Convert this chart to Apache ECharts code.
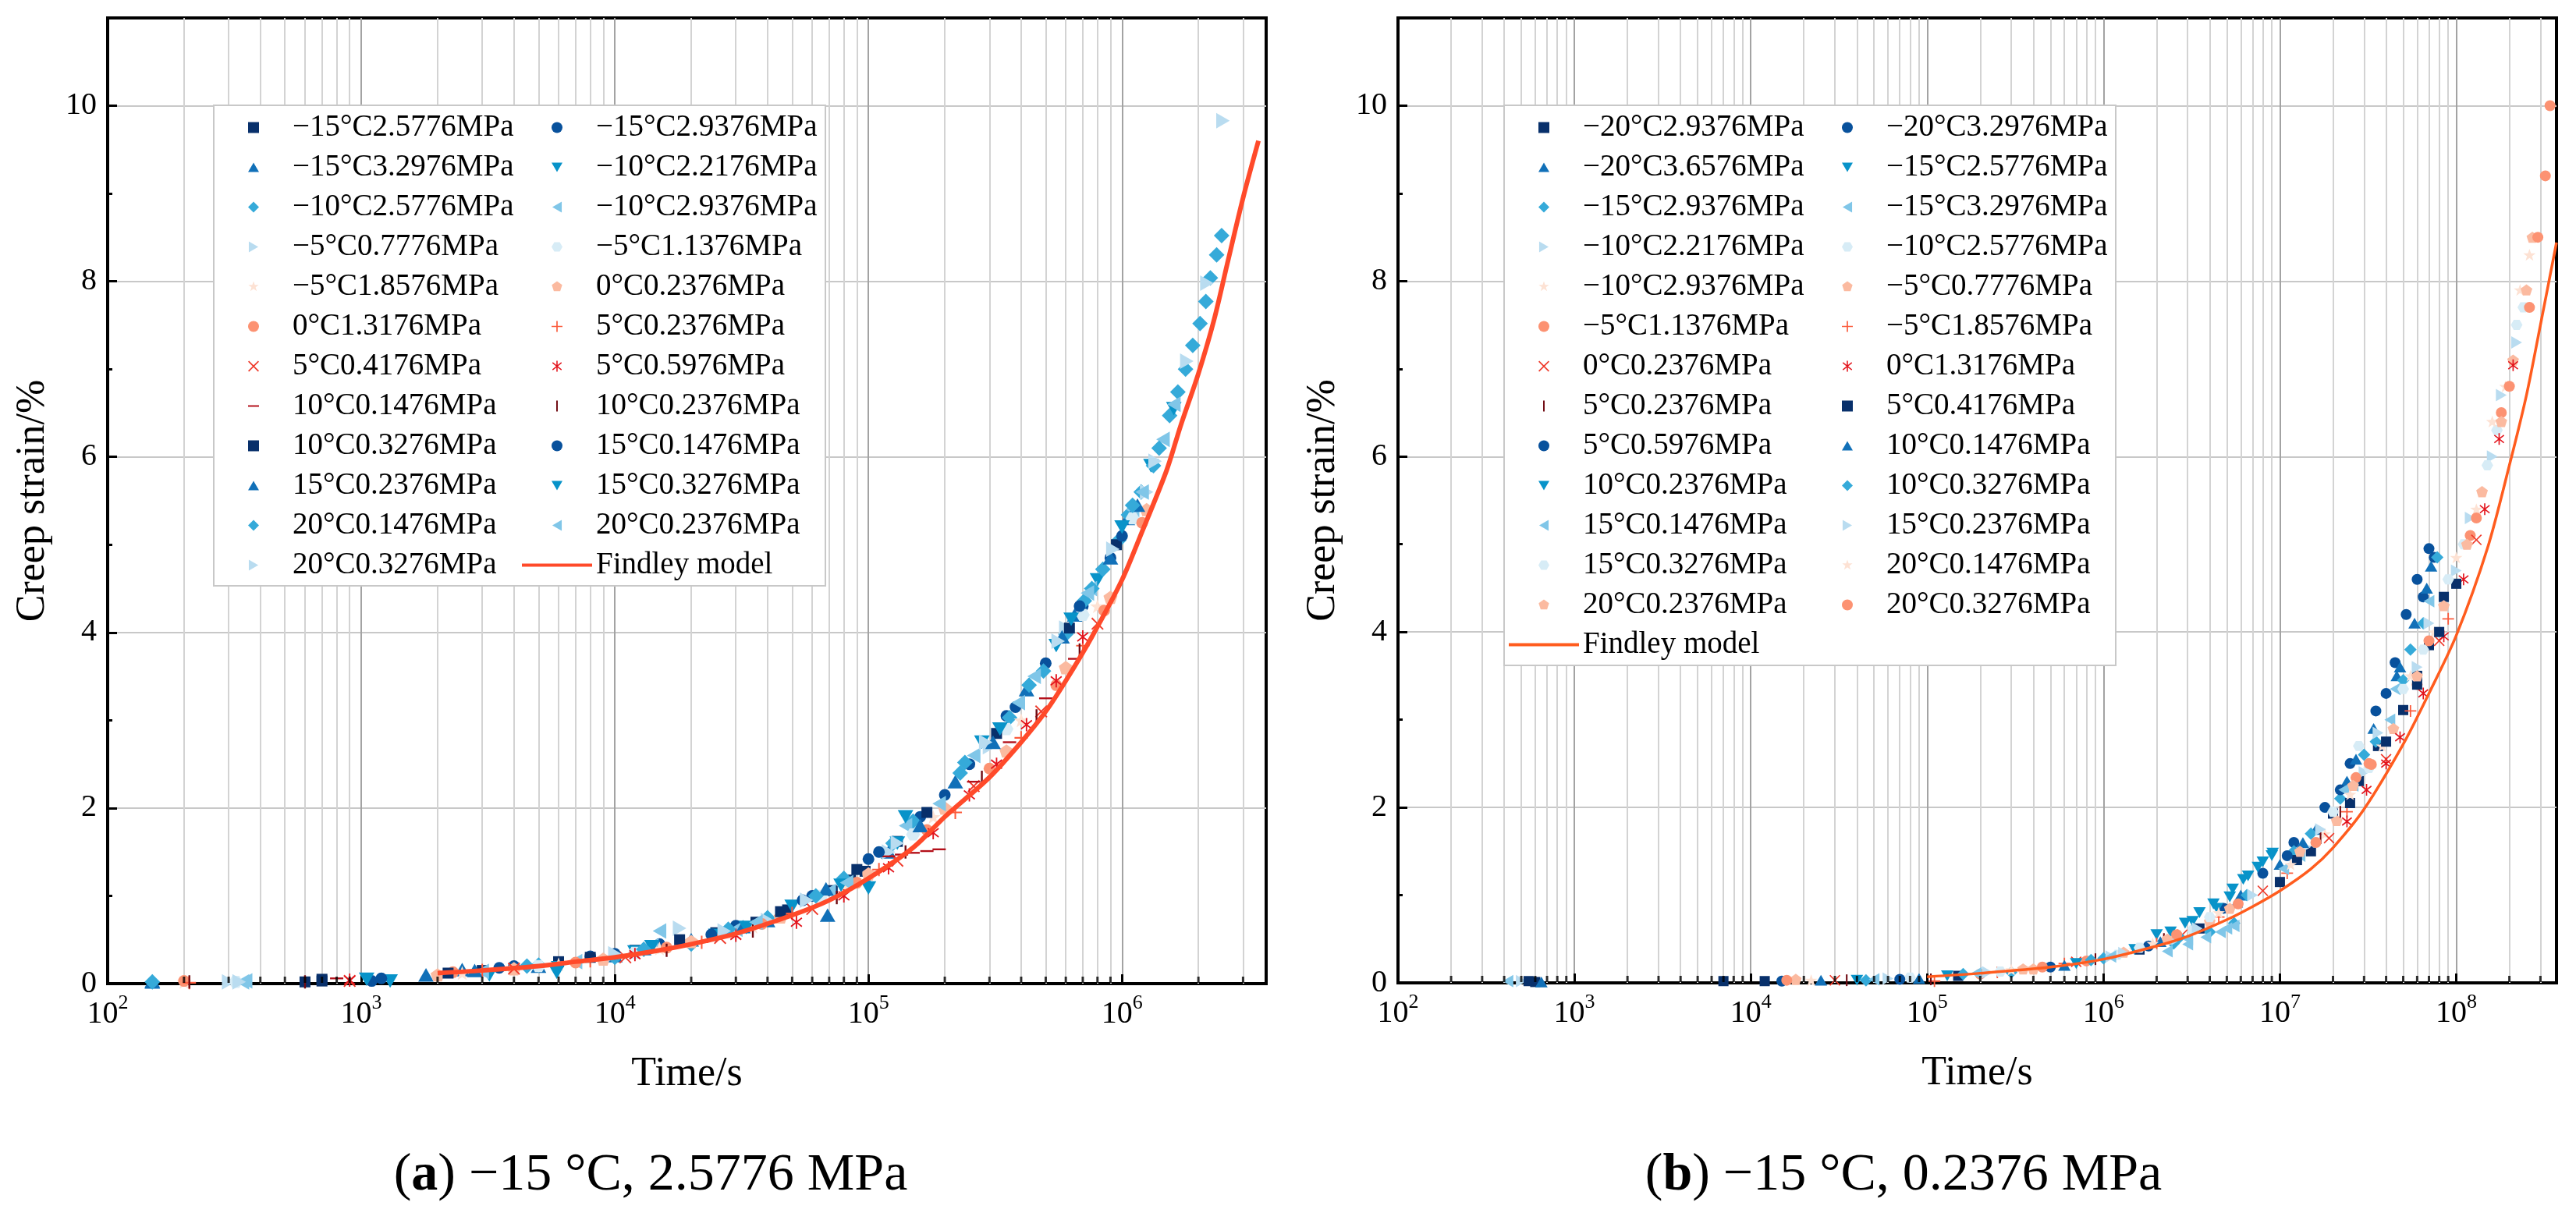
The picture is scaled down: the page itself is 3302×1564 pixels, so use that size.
<!DOCTYPE html>
<html>
<head>
<meta charset="utf-8">
<script src="https://cdn.jsdelivr.net/npm/echarts@6/dist/echarts.min.js"></script>
<style>
  html, body { margin: 0; padding: 0; background: #fff; }
  #container { width: 3302px; height: 1564px; }
</style>
</head>
<body>
<div id="container"></div>
<script>
// ---- legend labels -------------------------------------------------------
const namesA = ['−15°C2.5776MPa', '−15°C2.9376MPa', '−15°C3.2976MPa', '−10°C2.2176MPa',
  '−10°C2.5776MPa', '−10°C2.9376MPa', '−5°C0.7776MPa', '−5°C1.1376MPa', '−5°C1.8576MPa',
  '0°C0.2376MPa', '0°C1.3176MPa', '5°C0.2376MPa', '5°C0.4176MPa', '5°C0.5976MPa',
  '10°C0.1476MPa', '10°C0.2376MPa', '10°C0.3276MPa', '15°C0.1476MPa', '15°C0.2376MPa',
  '15°C0.3276MPa', '20°C0.1476MPa', '20°C0.2376MPa', '20°C0.3276MPa'];
const namesB = ['−20°C2.9376MPa', '−20°C3.2976MPa', '−20°C3.6576MPa', '−15°C2.5776MPa',
  '−15°C2.9376MPa', '−15°C3.2976MPa', '−10°C2.2176MPa', '−10°C2.5776MPa', '−10°C2.9376MPa',
  '−5°C0.7776MPa', '−5°C1.1376MPa', '−5°C1.8576MPa', '0°C0.2376MPa', '0°C1.3176MPa',
  '5°C0.2376MPa', '5°C0.4176MPa', '5°C0.5976MPa', '10°C0.1476MPa', '10°C0.2376MPa',
  '10°C0.3276MPa', '15°C0.1476MPa', '15°C0.2376MPa', '15°C0.3276MPa', '20°C0.1476MPa',
  '20°C0.2376MPa', '20°C0.3276MPa'];
const modelName = 'Findley model';
const captionA = '({b|a}) −15 °C, 2.5776 MPa';
const captionB = '({b|b}) −15 °C, 0.2376 MPa';

// ---- panel (a): [time s, creep strain %] ----------------------------------
const a01 = [[600, 0.02], [700, 0.03], [3e3, 0.15], [6e3, 0.25], [1.2e4, 0.38], [2.5e4, 0.58], [3.6e4, 0.70], [4.8e4, 0.84], [7.2e4, 1.06], [8.5e4, 1.18], [9.7e4, 1.28], [1.3e5, 1.62]];
const a02 = [[1.1e3, 0.03], [4e3, 0.2], [8e3, 0.31], [1.5e4, 0.45], [3e4, 0.66], [6e4, 1.0], [1e5, 1.42], [1.6e5, 1.9], [2.5e5, 2.5], [3.5e5, 3.05], [5e5, 3.65], [7e5, 4.3], [9e5, 4.85]];
const a03 = [[150, 0.02], [1.8e3, 0.1], [2.5e3, 0.16], [5e3, 0.2], [1e4, 0.32], [2e4, 0.5], [4e4, 0.72], [6.9e4, 0.78], [1.2e5, 1.5], [2.2e5, 2.3], [4.2e5, 3.35], [6.5e5, 4.2], [1.05e6, 5.3]];
const a04 = [[1.3e3, 0.03], [3.2e3, 0.1], [6e3, 0.18], [1.2e4, 0.36], [2.5e4, 0.55], [5e4, 0.88], [1e5, 1.2], [1.3e5, 1.6], [2.8e5, 2.75], [5.5e5, 3.85], [8e5, 4.6], [1.3e6, 5.9]];
const a05 = [[5e3, 0.21], [1e4, 0.3], [2e4, 0.45], [4e4, 0.75], [8e4, 1.2], [1.5e5, 1.85], [2.4e5, 2.52], [3.6e5, 3.03], [4.9e5, 3.56], [6e5, 3.98], [7.1e5, 4.36], [8.4e5, 4.72], [9.7e5, 5.05], [1.06e6, 5.34], [1.19e6, 5.6], [1.33e6, 5.9], [1.54e6, 6.47], [1.66e6, 6.74], [1.78e6, 7.0], [1.9e6, 7.27], [2.03e6, 7.52], [2.14e6, 7.77], [2.23e6, 8.04], [2.36e6, 8.3], [2.47e6, 8.52]];
const a06 = [[350, 0.03], [3e3, 0.14], [7e3, 0.25], [1.4e4, 0.43], [3e4, 0.62], [7e4, 1.05], [1.4e5, 1.8], [2.6e5, 2.6], [4.5e5, 3.5], [7.5e5, 4.5], [1.1e6, 5.4], [1.45e6, 6.2]];
const a07 = [[300, 0.02], [1.8e4, 0.63], [4e4, 0.72], [1.2e5, 1.5], [3e5, 2.7], [6e5, 4.05], [1.25e6, 5.6], [1.8e6, 7.09], [2.16e6, 7.98], [2.5e6, 9.83]];
const a08 = [[320, 0.02], [5e3, 0.2], [1.2e4, 0.35], [2.8e4, 0.6], [6.5e4, 1.0], [1.5e5, 1.7], [3.5e5, 2.9], [7e5, 4.2], [1.1e6, 5.3]];
const a09 = [[200, 0.02], [2.5e3, 0.12], [6e3, 0.22], [1.5e4, 0.4], [3.5e4, 0.65], [8e4, 1.1], [1.8e5, 1.9], [4e5, 3.0], [8e5, 4.3]];
const a10 = [[2e3, 0.1], [4e3, 0.17], [9e3, 0.28], [2e4, 0.48], [4.5e4, 0.76], [1e5, 1.25], [2e5, 2.0], [3.5e5, 2.65], [6e5, 3.6], [9e5, 4.4], [1.25e6, 5.4]];
const a11 = [[200, 0.03], [2.3e3, 0.13], [7e3, 0.24], [1.6e4, 0.41], [3.8e4, 0.68], [9e4, 1.15], [1.7e5, 1.75], [3e5, 2.45], [5.5e5, 3.4], [8.5e5, 4.25], [1.2e6, 5.25]];
const a12 = [[210, 0.01], [3e3, 0.15], [8e3, 0.26], [2.2e4, 0.47], [5e4, 0.8], [1.1e5, 1.3], [2.2e5, 1.95], [4e5, 2.8], [7e5, 3.85]];
const a13 = [[900, 0.03], [4e3, 0.17], [1.1e4, 0.3], [2.6e4, 0.52], [6e4, 0.85], [1.3e5, 1.4], [2.6e5, 2.25], [4.8e5, 3.1], [8e5, 4.1]];
const a14 = [[900, 0.04], [1.2e4, 0.33], [3e4, 0.55], [5.2e4, 0.7], [8e4, 1.0], [1.2e5, 1.32], [1.8e5, 1.72], [2.5e5, 2.15], [3.2e5, 2.5], [4.2e5, 2.95], [5.5e5, 3.45], [7e5, 3.95]];
const a15 = [[800, 0.06], [1.2e5, 1.45], [1.35e5, 1.47], [1.5e5, 1.49], [1.7e5, 1.51], [1.9e5, 1.53], [2.6e5, 2.3], [3.6e5, 2.75], [5e5, 3.25], [6.5e5, 3.7]];
const a16 = [[210, 0.02], [600, 0.02], [1.6e4, 0.38], [3.5e4, 0.6], [7.5e4, 0.98], [1.4e5, 1.5], [2.8e5, 2.35], [4.6e5, 3.05], [6.8e5, 3.8]];
const a17 = [[700, 0.05], [2.2e3, 0.12], [8e3, 0.3], [1.8e4, 0.5], [4.5e4, 0.82], [9e4, 1.3], [1.7e5, 1.95], [3.2e5, 2.85], [6.2e5, 4.05], [9.5e5, 5.0]];
const a18 = [[1.2e3, 0.06], [3.5e3, 0.18], [1e4, 0.34], [2.4e4, 0.56], [5.5e4, 0.95], [1.1e5, 1.5], [2e5, 2.15], [3.8e5, 3.15], [6.8e5, 4.3], [1e6, 5.1]];
const a19 = [[150, 0.03], [2.8e3, 0.15], [1.3e4, 0.4], [3.2e4, 0.65], [6.8e4, 1.08], [1.6e5, 1.8], [3.1e5, 2.75], [5.8e5, 3.95], [9e5, 4.85], [1.15e6, 5.45]];
const a20 = [[1.05e3, 0.05], [5.9e3, 0.13], [1.4e4, 0.42], [3.3e4, 0.64], [7.8e4, 1.12], [1e5, 1.09], [1.4e5, 1.9], [3.3e5, 2.9], [6.3e5, 4.15], [1e6, 5.2], [1.6e6, 6.55]];
const a21 = [[150, 0.02], [4.5e3, 0.2], [1.3e4, 0.39], [2.8e4, 0.62], [6.2e4, 1.0], [1.25e5, 1.6], [2.3e5, 2.4], [4.3e5, 3.4], [7.6e5, 4.5], [1.1e6, 5.45], [1.4e6, 6.1]];
const a22 = [[340, 0.02], [1.5e4, 0.6], [3.6e4, 0.7], [8.2e4, 1.15], [1.9e5, 2.05], [3.9e5, 3.2], [7.3e5, 4.45], [1.2e6, 5.6], [1.6e6, 6.6]];
const a23 = [[330, 0.02], [1e4, 0.34], [2.7e4, 0.6], [5.7e4, 0.95], [1.3e5, 1.6], [2.9e5, 2.75], [5.6e5, 3.9], [9.2e5, 4.95], [1.35e6, 5.95]];
const findleyA = [[2e3, 0.12], [3e3, 0.15], [5e3, 0.2], [7e3, 0.25], [1e4, 0.3], [1.5e4, 0.38], [2e4, 0.45], [3e4, 0.57], [5e4, 0.78], [7e4, 0.95], [1e5, 1.2], [1.5e5, 1.55], [2e5, 1.9], [3e5, 2.35], [4e5, 2.75], [5e5, 3.1], [6e5, 3.45], [7.6e5, 3.95], [1e6, 4.6], [1.2e6, 5.15], [1.5e6, 5.85], [1.7e6, 6.35], [2e6, 6.95], [2.3e6, 7.55], [2.6e6, 8.2], [3e6, 8.95], [3.45e6, 9.6]];

// ---- panel (b): [time s, creep strain %] ----------------------------------
const b01 = [[600, 0.01], [7e3, 0.02], [1e7, 1.15], [1.5e7, 1.5], [2e7, 1.93], [2.8e7, 2.3], [3.6e7, 2.7], [5e7, 3.11], [6e7, 3.5], [7e7, 3.85], [8.5e7, 4.4]];
const b02 = [[1.5e4, 0.02], [8e6, 1.25], [1.2e7, 1.6], [1.8e7, 2.0], [2.5e7, 2.5], [3.5e7, 3.1], [4.5e7, 3.65], [5.2e7, 4.2], [6e7, 4.6], [7e7, 4.95]];
const b03 = [[650, 0.01], [2.5e4, 0.03], [6e6, 1.0], [1e7, 1.35], [1.6e7, 1.75], [2.4e7, 2.3], [3.4e7, 2.9], [4.6e7, 3.5], [5.8e7, 4.1], [7.2e7, 4.75]];
const b04 = [[4e4, 0.03], [2e6, 0.55], [2.9e6, 0.68], [3.5e6, 0.8], [4.2e6, 0.9], [5.2e6, 0.98], [6.2e6, 1.18], [7.5e6, 1.32], [9.1e6, 1.48]];
const b05 = [[4.5e4, 0.03], [3e5, 0.12], [1e6, 0.28], [2.5e6, 0.45], [4e6, 0.58], [5.5e6, 0.68], [1.2e7, 1.5], [2.2e7, 2.1], [3.5e7, 2.75], [5e7, 3.45], [6.5e7, 4.1]];
const b06 = [[420, 0.02], [5e4, 0.04], [2.3e6, 0.36], [3e6, 0.44], [3.8e6, 0.52], [4.6e6, 0.58], [5.5e6, 0.65], [1.3e7, 1.45], [2.6e7, 2.25], [4.2e7, 3.0]];
const b07 = [[500, 0.02], [6e4, 0.05], [1.1e6, 0.3], [2.6e6, 0.5], [1.4e7, 1.55], [3e7, 2.4], [6e7, 3.6], [1e8, 4.7], [1.6e8, 6.0], [2.2e8, 7.3]];
const b08 = [[8e4, 0.06], [1.2e6, 0.32], [3.2e6, 0.6], [1.6e7, 1.6], [3.2e7, 2.45], [6.5e7, 3.8], [1.1e8, 5.0], [1.7e8, 6.3], [2.4e8, 7.7]];
const b09 = [[2.2e4, 0.03], [5e5, 0.18], [1.5e6, 0.38], [1.8e7, 1.7], [3.8e7, 2.7], [7.5e7, 4.0], [1.3e8, 5.4], [1.9e8, 6.8], [2.6e8, 8.3]];
const b10 = [[1.8e4, 0.04], [4e5, 0.16], [1.3e6, 0.35], [4e6, 0.7], [2.1e7, 1.85], [4.4e7, 2.9], [8.5e7, 4.3], [1.4e8, 5.6], [2.1e8, 7.1], [2.7e8, 8.5]];
const b11 = [[1.6e4, 0.03], [2e5, 0.1], [8e5, 0.25], [2.7e7, 2.34], [3.3e7, 2.49], [6e7, 3.4], [1.2e8, 5.1], [1.8e8, 6.5]];
const b12 = [[1.1e5, 0.02], [2.5e5, 0.12], [6e5, 0.22], [2e6, 0.45], [4.5e6, 0.75], [1.1e7, 1.25], [2.4e7, 1.95], [5.5e7, 3.1], [9e7, 4.15]];
const b13 = [[3e4, 0.03], [7e5, 0.24], [2.8e6, 0.55], [8e6, 1.05], [1.9e7, 1.65], [4e7, 2.55], [8e7, 3.9], [1.3e8, 5.05]];
const b14 = [[2.4e7, 1.84], [3.1e7, 2.2], [4e7, 2.5], [4.8e7, 2.8], [6.5e7, 3.3], [8.5e7, 3.95], [1.1e8, 4.6], [1.45e8, 5.4], [1.75e8, 6.2], [2.1e8, 7.04]];
const b15 = [[3.5e4, 0.03], [1.05e5, 0.04], [9e5, 0.27], [2.2e6, 0.5], [1.7e7, 1.65], [2.2e7, 1.95]];
const b16 = [[550, 0.02], [1.2e4, 0.02], [1.5e5, 0.08], [1.6e6, 0.38], [3.5e6, 0.62], [1.25e7, 1.4], [2.5e7, 2.05], [4e7, 2.75], [6e7, 3.4], [8e7, 4.0], [1e8, 4.55]];
const b17 = [[7e4, 0.04], [5e5, 0.18], [1.8e6, 0.42], [4.8e6, 0.85], [1.1e7, 1.45], [2.2e7, 2.2], [4e7, 3.3], [6.5e7, 4.4], [7.5e7, 4.85]];
const b18 = [[9e4, 0.05], [6e5, 0.2], [2.1e6, 0.47], [5.7e6, 0.92], [1.35e7, 1.6], [2.7e7, 2.55], [4.8e7, 3.6], [6.8e7, 4.5]];
const b19 = [[1.3e5, 0.08], [7e5, 0.22], [1.5e6, 0.38], [2.4e6, 0.58], [3.2e6, 0.7], [4.4e6, 0.85], [5.4e6, 1.07], [6.6e6, 1.22], [8e6, 1.38], [9e6, 1.45]];
const b20 = [[1.6e5, 0.1], [8.5e5, 0.26], [2.7e6, 0.52], [6.5e6, 1.0], [1.5e7, 1.7], [3e7, 2.6], [5.5e7, 3.8], [7.8e7, 4.85]];
const b21 = [[1.9e5, 0.11], [1.1e6, 0.3], [3e6, 0.5], [5e6, 0.62], [1.05e7, 1.3], [2.3e7, 2.2], [4.5e7, 3.35], [7e7, 4.35]];
const b22 = [[2.2e5, 0.12], [1.3e6, 0.34], [3.4e6, 0.62], [7e6, 1.0], [1.7e7, 1.75], [3.6e7, 2.85], [7e7, 4.1], [1.2e8, 5.3], [1.8e8, 6.7]];
const b23 = [[2.6e5, 0.13], [1.6e6, 0.4], [4e6, 0.75], [2e7, 1.95], [2.8e7, 2.7], [5e7, 3.35], [9e7, 4.6], [1.5e8, 5.9], [2.2e8, 7.5]];
const b24 = [[3e5, 0.15], [1.9e6, 0.45], [4.5e6, 0.8], [1.15e7, 1.35], [2.5e7, 2.15], [5.5e7, 3.5], [1e8, 4.85], [1.6e8, 6.4], [2.3e8, 7.9]];
const b25 = [[3.5e5, 0.16], [2.3e6, 0.5], [5.2e6, 0.85], [1.3e7, 1.5], [2.6e7, 2.25], [6e7, 3.5], [1.15e8, 5.0], [1.8e8, 6.4], [2.5e8, 7.9]];
const b26 = [[4.5e5, 0.18], [2.6e6, 0.55], [5.8e6, 0.9], [1.6e7, 1.6], [3.2e7, 2.5], [7e7, 3.9], [1.3e8, 5.3], [2e8, 6.8], [2.6e8, 7.7], [2.9e8, 8.5], [3.2e8, 9.2], [3.4e8, 10.0]];
const findleyB = [[1e5, 0.07], [2e5, 0.11], [5e5, 0.18], [1e6, 0.27], [2e6, 0.42], [3e6, 0.53], [5e6, 0.72], [7e6, 0.87], [1e7, 1.05], [1.5e7, 1.3], [2e7, 1.54], [3e7, 1.98], [5e7, 2.72], [7e7, 3.3], [1e8, 3.96], [1.5e8, 4.95], [2e8, 5.9], [2.5e8, 6.7], [3e8, 7.5], [3.7e8, 8.44]];

const pointsA = [a01, a02, a03, a04, a05, a06, a07, a08, a09, a10, a11, a12, a13, a14, a15, a16, a17, a18, a19, a20, a21, a22, a23];
const pointsB = [b01, b02, b03, b04, b05, b06, b07, b08, b09, b10, b11, b12, b13, b14, b15, b16, b17, b18, b19, b20, b21, b22, b23, b24, b25, b26];

// axis extents
const timeMaxA = 3.7e6;
const timeMaxB = 3.7e8;
const strainMax = 11;

// ---- marker styles (Origin-like symbol / colour cycle), all in a 10x10 box --
const FONT = '"Liberation Serif", "Times New Roman", serif';
const SQUARE = 'path://M0,0 H10 V10 H0 Z';
const CIRCLE = 'path://M0,5 A5,5 0 1,0 10,5 A5,5 0 1,0 0,5 Z';
const TRI_UP = 'path://M5,0.67 L10,9.33 L0,9.33 Z';
const TRI_DOWN = 'path://M0,0.67 L10,0.67 L5,9.33 Z';
const DIAMOND = 'path://M5,0 L10,5 L5,10 L0,5 Z';
const TRI_LEFT = 'path://M0.67,5 L9.33,0 L9.33,10 L0.67,5 Z';
const TRI_RIGHT = 'path://M0.67,0 L9.33,5 L0.67,10 Z';
const HEX = 'path://M2.5,0.67 L7.5,0.67 L10,5 L7.5,9.33 L2.5,9.33 L0,5 Z';
const STAR = 'path://M5,0 L6.18,3.38 L9.76,3.45 L6.9,5.62 L7.94,9.05 L5,7 L2.06,9.05 L3.1,5.62 L0.24,3.45 L3.82,3.38 Z';
const PENT = 'path://M5,0 L9.76,3.45 L7.94,9.05 L2.06,9.05 L0.24,3.45 Z';
const PLUS = 'path://M4.4,0 H5.6 V4.4 H10 V5.6 H5.6 V10 H4.4 V5.6 H0 V4.4 H4.4 Z';
const CROSS = 'path://M0,0.85 L0.85,0 L5,4.15 L9.15,0 L10,0.85 L5.85,5 L10,9.15 L9.15,10 L5,5.85 L0.85,10 L0,9.15 L4.15,5 Z';
const ASTER = 'path://M4.45,0 H5.55 V10 H4.45 Z M0.6,2.2 L1.2,1.3 L9.4,7.8 L8.8,8.7 Z M0.6,7.8 L8.8,1.3 L9.4,2.2 L1.2,8.7 Z';
const DASH = 'path://M5,0 L5,0 M5,10 L5,10 M0,4.3 H10 V5.7 H0 Z';
const VBAR = 'path://M0,5 L0,5 M10,5 L10,5 M4.3,0 H5.7 V10 H4.3 Z';
const LINE_ICON = 'path://M0,5 H90 V9 H0 Z M0,0 L0,0 M90,14 L90,14';

const symbolsA = [SQUARE, CIRCLE, TRI_UP, TRI_DOWN, DIAMOND, TRI_LEFT, TRI_RIGHT, HEX, STAR, PENT, CIRCLE, PLUS, CROSS, ASTER, DASH, VBAR];
const colorsA = ['#08306b', '#08519c', '#1170b8', '#0893c9', '#35aad9', '#80c6e8', '#b9dcf0', '#d7ecf6', '#fde2d4', '#fbbaa0', '#fc9272', '#fb5b3c', '#ef3b2c', '#e3141c', '#b3101a', '#700a12'];
const sizesA = [14, 15, 20, 20, 20, 20, 20, 18, 19, 18, 15, 17, 16, 17, 17, 17];
const symbolsB = [SQUARE, CIRCLE, TRI_UP, TRI_DOWN, DIAMOND, TRI_LEFT, TRI_RIGHT, HEX, STAR, PENT, CIRCLE, PLUS, CROSS, ASTER, VBAR];
const colorsB = ['#08306b', '#08519c', '#1170b8', '#0893c9', '#35aad9', '#80c6e8', '#b9dcf0', '#d7ecf6', '#fde2d4', '#fbbaa0', '#fc9272', '#fb5b3c', '#ef3b2c', '#e3141c', '#700a12'];
const sizesB = [13, 14, 16, 16, 16, 16, 16, 15, 16, 15, 14, 15, 14, 15, 15];

// legend icon: the marker scaled to 14 px and centred in a 90x14 box, so that
// every legend entry (marker or line) has the same width
function legendIcon(sym) {
    const S = 1.4, OX = 38, OY = 0;
    const body = sym.replace('path://', '').replace(/([MLHVAZ])([^MLHVAZ]*)/g, function (all, cmd, args) {
        const n = args.trim().split(/[\s,]+/).filter(function (s) { return s !== ''; }).map(Number);
        if (cmd === 'Z') return 'Z ';
        if (cmd === 'H') return 'H' + (n[0] * S + OX) + ' ';
        if (cmd === 'V') return 'V' + (n[0] * S + OY) + ' ';
        if (cmd === 'A') {
            return 'A' + [n[0] * S, n[1] * S, n[2], n[3], n[4], n[5] * S + OX, n[6] * S + OY].join(',') + ' ';
        }
        const pts = [];
        for (let i = 0; i + 1 < n.length; i += 2) pts.push((n[i] * S + OX) + ',' + (n[i + 1] * S + OY));
        return cmd + pts.join(' ') + ' ';
    });
    return 'path://M0,0 L0,0 M90,14 L90,14 ' + body;
}

// series names must be unique across the two panels, so panel (b) gets an
// invisible tag that the legend formatter strips again
const TAG_B = '\u200b';

function markerSeries(names, pts, symbols, colors, sizes, idx, tag) {
    return names.map(function (name, i) {
        const k = i % symbols.length;
        return {
            name: name + tag,
            type: 'scatter',
            xAxisIndex: idx,
            yAxisIndex: idx,
            data: pts[i],
            symbol: symbols[k],
            symbolSize: sizes[k],
            symbolKeepAspect: true,
            itemStyle: { color: colors[k], opacity: 1 },
            emphasis: { disabled: true },
            z: 3
        };
    });
}

// minor (2..9 x 10^n) ticks and grid lines of a log time axis
function minorDecor(idx, maxVal) {
    const minors = [];
    for (let e = 2; Math.pow(10, e) < maxVal; e++) {
        for (let m = 2; m <= 9; m++) {
            const v = m * Math.pow(10, e);
            if (v < maxVal) minors.push(v);
        }
    }
    return {
        name: 'minor-' + idx,
        type: 'scatter',
        xAxisIndex: idx,
        yAxisIndex: idx,
        data: minors.map(function (v) { return [v, 0]; }),
        symbol: 'rect',
        symbolSize: [3, 8],
        symbolOffset: [0, -5],
        itemStyle: { color: '#000' },
        clip: false,
        silent: true,
        z: 4,
        markLine: {
            silent: true,
            z: 1,
            symbol: ['none', 'none'],
            label: { show: false },
            lineStyle: { color: '#d3d3d3', width: 2, type: 'solid' },
            data: minors.map(function (v) { return { xAxis: v }; })
        }
    };
}

function modelSeries(data, idx, tag, color, width) {
    return {
        name: modelName + tag,
        type: 'line',
        xAxisIndex: idx,
        yAxisIndex: idx,
        data: data,
        smooth: 0.3,
        symbol: 'none',
        showSymbol: false,
        lineStyle: { color: color, width: width },
        itemStyle: { color: color },
        emphasis: { disabled: true },
        z: 5
    };
}

function timeAxis(idx, maxVal) {
    return {
        type: 'log',
        logBase: 10,
        gridIndex: idx,
        min: 100,
        max: maxVal,
        name: 'Time/s',
        nameLocation: 'middle',
        nameGap: 90,
        nameTextStyle: { fontFamily: FONT, fontSize: 52, color: '#000' },
        axisLine: { show: true, onZero: false, lineStyle: { color: '#000', width: 4 } },
        axisTick: { show: true, inside: true, length: 12, lineStyle: { color: '#000', width: 3 } },
        splitLine: { show: true, showMinLine: false, showMaxLine: false, lineStyle: { color: '#a3a3a3', width: 2 } },
        axisLabel: {
            showMaxLabel: false,
            margin: 12,
            formatter: function (v) {
                return '{m|10}{s|' + Math.round(Math.log10(v)) + '}';
            },
            rich: {
                m: { fontFamily: FONT, fontSize: 40, color: '#000', lineHeight: 54 },
                s: { fontFamily: FONT, fontSize: 26, color: '#000', lineHeight: 28, verticalAlign: 'top' }
            }
        }
    };
}

function strainAxis(idx) {
    return {
        type: 'value',
        gridIndex: idx,
        min: 0,
        max: strainMax,
        interval: 2,
        name: 'Creep strain/%',
        nameLocation: 'middle',
        nameGap: 70,
        nameTextStyle: { fontFamily: FONT, fontSize: 52, color: '#000' },
        axisLine: { show: true, onZero: false, lineStyle: { color: '#000', width: 4 } },
        axisTick: { show: true, inside: true, length: 12, lineStyle: { color: '#000', width: 3 } },
        minorTick: { show: true, splitNumber: 2, length: 6, lineStyle: { color: '#000', width: 3 } },
        splitLine: { show: true, showMinLine: false, showMaxLine: false, lineStyle: { color: '#c8c8c8', width: 2 } },
        axisLabel: { fontFamily: FONT, fontSize: 40, color: '#000', margin: 14, showMaxLabel: false }
    };
}

function legendBox(names, symbols, tag, left) {
    return {
        data: names.map(function (n, i) {
            return { name: n + tag, icon: legendIcon(symbols[i % symbols.length]) };
        }).concat([{ name: modelName + tag, icon: LINE_ICON }]),
        orient: 'horizontal',
        left: left,
        top: 135,
        width: 775,
        padding: [8, 10, 6, 6],
        itemGap: 10,
        itemWidth: 90,
        itemHeight: 14,
        symbolKeepAspect: true,
        backgroundColor: '#fff',
        borderColor: '#c8c8c8',
        borderWidth: 2,
        selectedMode: false,
        formatter: function (n) { return n.replace(TAG_B, ''); },
        textStyle: {
            fontFamily: FONT, fontSize: 39, color: '#000',
            width: 284, lineHeight: 41, overflow: 'none'
        }
    };
}

const chart = echarts.init(document.getElementById('container'), null, { renderer: 'canvas' });

const option = {
    animation: false,
    backgroundColor: '#fff',
    grid: [
        { left: 138, top: 23, width: 1485, height: 1238, show: true, borderColor: '#000', borderWidth: 4, backgroundColor: 'transparent' },
        { left: 1792, top: 23, width: 1485, height: 1237, show: true, borderColor: '#000', borderWidth: 4, backgroundColor: 'transparent' }
    ],
    xAxis: [timeAxis(0, timeMaxA), timeAxis(1, timeMaxB)],
    yAxis: [strainAxis(0), strainAxis(1)],
    legend: [legendBox(namesA, symbolsA, '', 274), legendBox(namesB, symbolsB, TAG_B, 1928)],
    series: [].concat(
        [minorDecor(0, timeMaxA), minorDecor(1, timeMaxB)],
        markerSeries(namesA, pointsA, symbolsA, colorsA, sizesA, 0, ''),
        [modelSeries(findleyA, 0, '', '#ff4a2a', 6)],
        markerSeries(namesB, pointsB, symbolsB, colorsB, sizesB, 1, TAG_B),
        [modelSeries(findleyB, 1, TAG_B, '#ff5c1e', 3.5)]
    ),
    graphic: [
        {
            type: 'text', x: 834, y: 1507,
            style: {
                text: captionA, fontFamily: FONT, fontSize: 68, fill: '#000',
                align: 'center', verticalAlign: 'middle', textAlign: 'center', textVerticalAlign: 'middle',
                rich: { b: { fontFamily: FONT, fontSize: 68, fontWeight: 'bold', fill: '#000' } }
            }
        },
        {
            type: 'text', x: 2440, y: 1507,
            style: {
                text: captionB, fontFamily: FONT, fontSize: 68, fill: '#000',
                align: 'center', verticalAlign: 'middle', textAlign: 'center', textVerticalAlign: 'middle',
                rich: { b: { fontFamily: FONT, fontSize: 68, fontWeight: 'bold', fill: '#000' } }
            }
        }
    ]
};

chart.setOption(option);
</script>
</body>
</html>
